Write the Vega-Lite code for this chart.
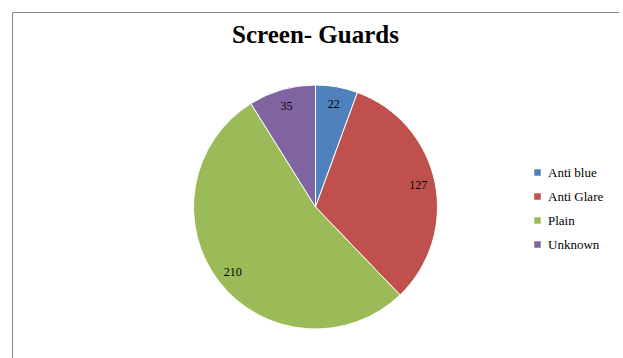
{
  "$schema": "https://vega.github.io/schema/vega-lite/v6.json",
  "autosize": "none",
  "padding": {"left": 12, "top": 12, "right": 0, "bottom": 0},
  "width": 607,
  "height": 390,
  "background": "white",
  "view": {"stroke": "#8a8a8a", "strokeWidth": 1, "fill": "white"},
  "config": {
    "font": "Liberation Serif"
  },
  "title": {
    "text": "Screen- Guards",
    "font": "Liberation Serif",
    "fontSize": 25,
    "fontWeight": "bold",
    "color": "#000000",
    "anchor": "middle",
    "baseline": "alphabetic",
    "dy": 60
  },
  "data": {
    "values": [
      {"type": "Anti blue", "count": 22, "rank": 1},
      {"type": "Anti Glare", "count": 127, "rank": 2},
      {"type": "Plain", "count": 210, "rank": 3},
      {"type": "Unknown", "count": 35, "rank": 4}
    ]
  },
  "encoding": {
    "theta": {"field": "count", "type": "quantitative", "stack": true},
    "order": {"field": "rank", "type": "quantitative"},
    "color": {
      "field": "type",
      "type": "nominal",
      "scale": {
        "domain": ["Anti blue", "Anti Glare", "Plain", "Unknown"],
        "range": ["#4F81BD", "#C0504D", "#9BBB59", "#8064A2"]
      },
      "legend": {
        "title": null,
        "orient": "none",
        "legendX": 519,
        "legendY": 154,
        "symbolType": "square",
        "symbolSize": 42,
        "symbolStrokeWidth": 0,
        "labelFont": "Liberation Serif",
        "labelFontSize": 13,
        "labelColor": "#000000",
        "labelOffset": 4,
        "rowPadding": 10
      }
    }
  },
  "layer": [
    {
      "mark": {"type": "arc", "outerRadius": 122, "stroke": "white", "strokeWidth": 1}
    },
    {
      "mark": {"type": "text", "radius": 105, "font": "Liberation Serif", "fontSize": 12, "color": "#000000"},
      "encoding": {
        "text": {"field": "count", "type": "quantitative"},
        "color": {"value": "#000000"}
      }
    }
  ]
}
